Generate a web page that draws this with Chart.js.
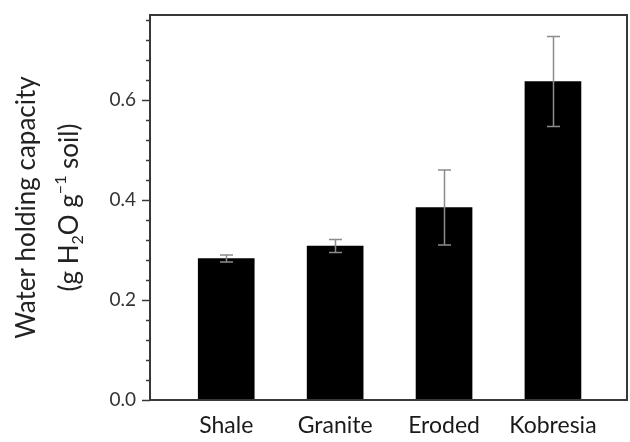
<!DOCTYPE html>
<html>
<head>
<meta charset="utf-8">
<script src="https://cdn.jsdelivr.net/npm/chart.js@4.4.1/dist/chart.umd.min.js"></script>
<style>
  html, body { margin: 0; padding: 0; background: #fff; }
  #wrap { width: 630px; height: 442px; }
</style>
</head>
<body>
<div id="wrap"><canvas id="c" width="630" height="442"></canvas></div>
<script>
// Water holding capacity by soil type (mean with error)
const categories = ['Shale', 'Granite', 'Eroded', 'Kobresia'];
const means = [0.283, 0.308, 0.385, 0.637];
const errors = [0.007, 0.013, 0.075, 0.090];
const yTickValues = [0, 0.2, 0.4, 0.6];
const yMax = 0.77;
const minorStep = 0.04;

const FONT = 'Lato, "Open Sans", sans-serif';

// Frame, y tick marks, error bars and the two-line axis title
const decorations = {
  id: 'decorations',
  afterDatasetsDraw(chart) {
    const ctx = chart.ctx;
    const y = chart.scales.y;
    const meta = chart.getDatasetMeta(0);

    // error bars
    ctx.save();
    ctx.strokeStyle = '#8c8c8c';
    ctx.lineWidth = 1.5;
    meta.data.forEach((bar, i) => {
      const top = y.getPixelForValue(means[i] + errors[i]);
      const bot = y.getPixelForValue(means[i] - errors[i]);
      const cx = Math.round(bar.x) + 0.5;
      ctx.beginPath();
      ctx.moveTo(cx, top); ctx.lineTo(cx, bot);
      ctx.moveTo(cx - 6.5, top); ctx.lineTo(cx + 6.5, top);
      ctx.moveTo(cx - 6.5, bot); ctx.lineTo(cx + 6.5, bot);
      ctx.stroke();
    });
    ctx.restore();
  },
  afterDraw(chart) {
    const ctx = chart.ctx;
    const area = chart.chartArea;
    const y = chart.scales.y;

    // frame
    ctx.save();
    ctx.strokeStyle = '#383838';
    ctx.lineWidth = 2;
    ctx.strokeRect(area.left, area.top, area.right - area.left, area.bottom - area.top);

    // major and minor tick marks on the y axis
    ctx.lineWidth = 1.5;
    for (let k = 0; k * minorStep <= yMax + 1e-9; k++) {
      const v = k * minorStep;
      const py = Math.round(y.getPixelForValue(v)) + 0.5;
      const major = k % 5 === 0;
      ctx.beginPath();
      ctx.moveTo(area.left - (major ? 8 : 4), py);
      ctx.lineTo(area.left, py);
      ctx.stroke();
    }
    ctx.restore();

    // y axis title, two lines, with sub- and superscripts
    const cy = (area.top + area.bottom) / 2;
    const drawLine = (segments, baseX, size) => {
      ctx.save();
      ctx.translate(baseX, cy);
      ctx.rotate(-Math.PI / 2);
      ctx.fillStyle = '#222';
      ctx.textBaseline = 'alphabetic';
      ctx.textAlign = 'left';
      let total = 0;
      segments.forEach(s => {
        ctx.font = (s.small ? Math.round(size * 0.62) : size) + 'px ' + FONT;
        total += ctx.measureText(s.t).width;
      });
      let x = -total / 2;
      segments.forEach(s => {
        ctx.font = (s.small ? Math.round(size * 0.62) : size) + 'px ' + FONT;
        ctx.fillText(s.t, x, s.shift || 0);
        x += ctx.measureText(s.t).width;
      });
      ctx.restore();
    };
    drawLine([{ t: 'Water holding capacity' }], 35, 26);
    drawLine([
      { t: '(g H' },
      { t: '2', small: true, shift: 5 },
      { t: 'O g' },
      { t: '\u22121', small: true, shift: -12 },
      { t: ' soil)' }
    ], 78, 26);
  }
};

new Chart(document.getElementById('c'), {
  type: 'bar',
  data: {
    datasets: [{
      data: means.map((v, i) => ({ x: i, y: v })),
      backgroundColor: '#000',
      borderWidth: 0,
      barThickness: 56
    }]
  },
  options: {
    responsive: false,
    animation: false,
    devicePixelRatio: 1,
    layout: { padding: { top: 15, right: 3, left: 0, bottom: 0 } },
    plugins: { legend: { display: false }, tooltip: { enabled: false } },
    scales: {
      x: {
        type: 'linear',
        offset: false,
        min: -0.7,
        max: 3.68,
        grid: { display: false, drawTicks: false, offset: false },
        border: { display: false },
        afterBuildTicks: s => { s.ticks = categories.map((_, i) => ({ value: i })); },
        afterFit: s => { s.height = 42; s.paddingLeft = 0; s.paddingRight = 0; },
        ticks: {
          autoSkip: false,
          maxRotation: 0,
          padding: 12,
          color: '#1a1a1a',
          font: { family: FONT, size: 23 },
          callback: v => categories[v]
        }
      },
      y: {
        min: 0,
        max: yMax,
        grid: { display: false, drawTicks: false },
        border: { display: false },
        afterBuildTicks: s => { s.ticks = yTickValues.map(v => ({ value: v })); },
        afterFit: s => { s.width = 150; s.paddingTop = 0; s.paddingBottom = 0; },
        ticks: {
          padding: 14,
          color: '#333',
          font: { family: FONT, size: 19 },
          callback: v => v.toFixed(1)
        }
      }
    }
  },
  plugins: [decorations]
});
</script>
</body>
</html>
